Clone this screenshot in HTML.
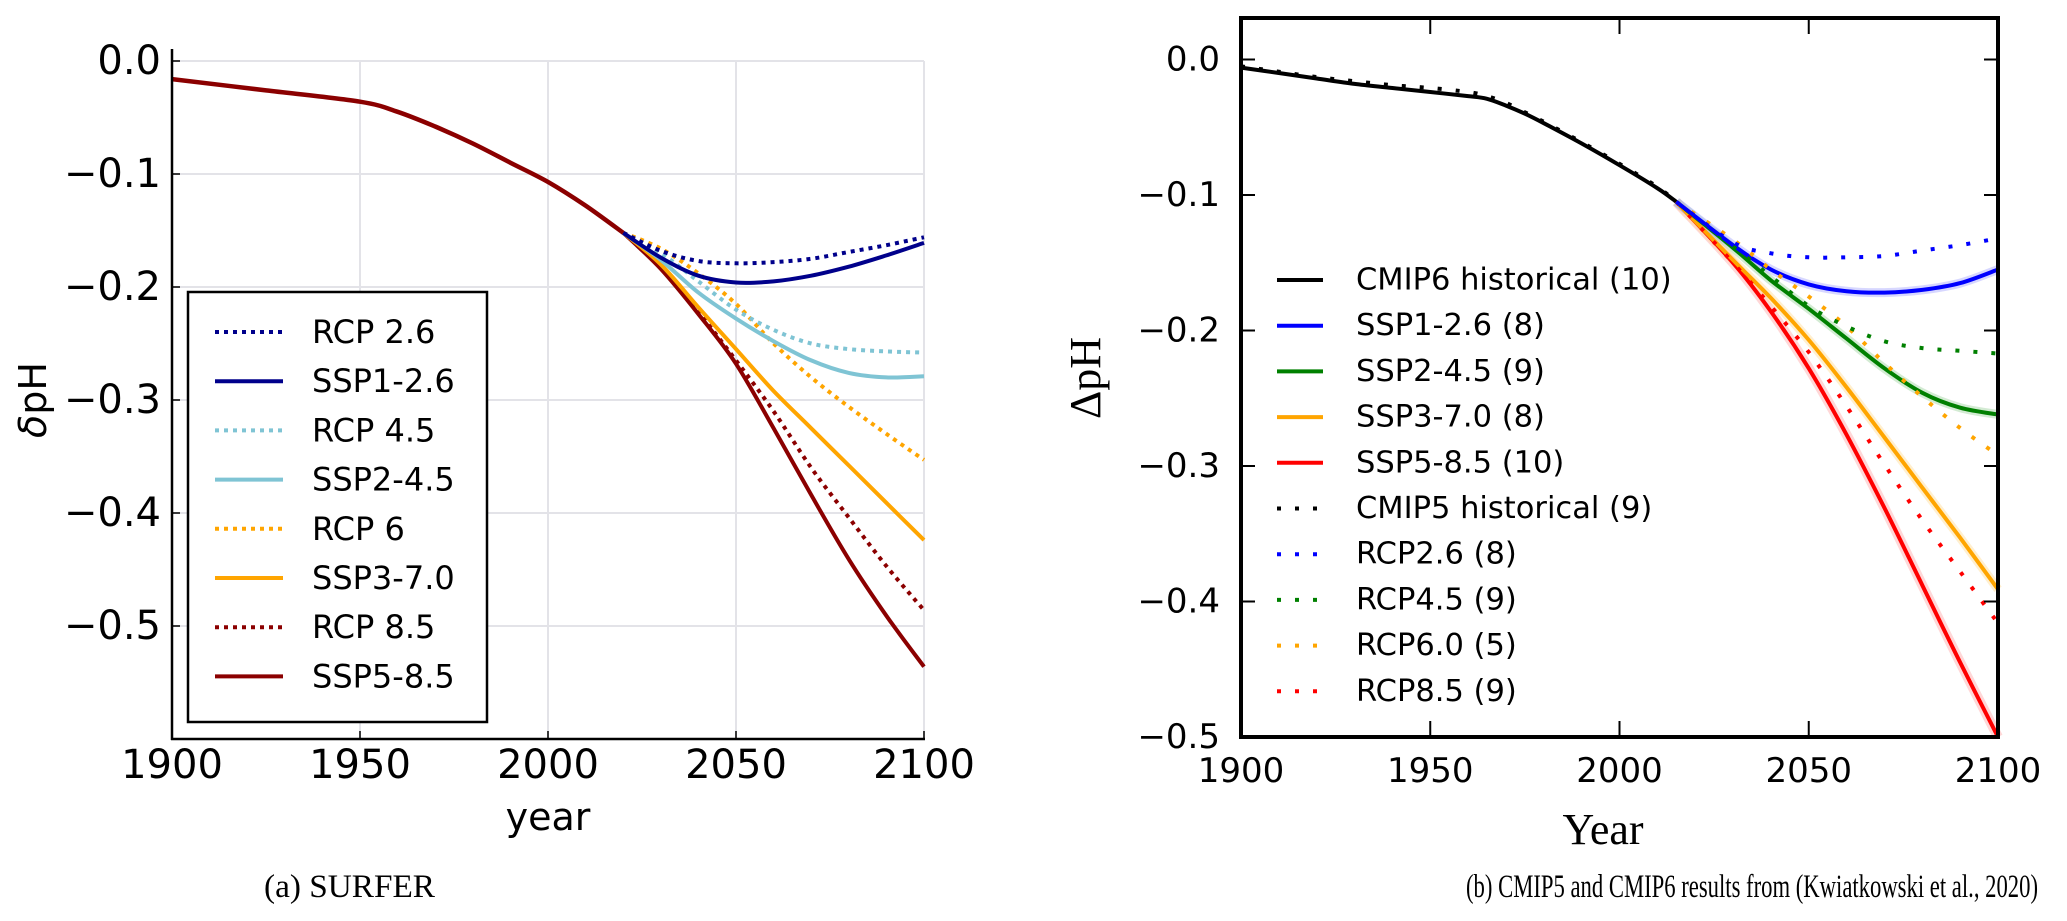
<!DOCTYPE html>
<html><head><meta charset="utf-8"><style>
html,body{margin:0;padding:0;background:#fff;}
svg{display:block;}
</style></head><body>
<svg id="fig" width="2067" height="921" viewBox="0 0 2067 921" xmlns="http://www.w3.org/2000/svg">
<g id="left"></g>
<g id="right"></g>
<text x="264" y="897" font-family="Liberation Serif, serif" font-size="33" textLength="171" lengthAdjust="spacingAndGlyphs">(a) SURFER</text>
<text x="1466" y="897" font-family="Liberation Serif, serif" font-size="33" textLength="572" lengthAdjust="spacingAndGlyphs">(b) CMIP5 and CMIP6 results from (Kwiatkowski et al., 2020)</text>
</svg>
<script>
// ---------- LEFT (SURFER) DATA ----------
const histYearsL = [1900,1925,1950,1960,1970,1980,1990,2000,2010,2020];
const histValsL  = [-0.016,-0.026,-0.036,-0.045,-0.058,-0.073,-0.09,-0.107,-0.128,-0.152];
const scenYearsL = [2020,2030,2040,2050,2060,2070,2080,2090,2100];
const rcp26L  = [-0.152,-0.168,-0.177,-0.179,-0.178,-0.175,-0.169,-0.163,-0.156];
const ssp126L = [-0.152,-0.174,-0.190,-0.196,-0.195,-0.190,-0.182,-0.172,-0.161];
const rcp45L  = [-0.152,-0.170,-0.195,-0.220,-0.238,-0.250,-0.255,-0.257,-0.258];
const ssp245L = [-0.152,-0.176,-0.205,-0.228,-0.248,-0.265,-0.276,-0.280,-0.279];
const rcp6L   = [-0.152,-0.166,-0.188,-0.215,-0.250,-0.280,-0.306,-0.330,-0.353];
const ssp370L = [-0.152,-0.180,-0.218,-0.255,-0.292,-0.325,-0.358,-0.391,-0.424];
const rcp85L  = [-0.152,-0.182,-0.222,-0.265,-0.310,-0.360,-0.404,-0.447,-0.486];
const ssp585L = [-0.152,-0.184,-0.224,-0.268,-0.325,-0.384,-0.441,-0.491,-0.536];
const yTicksL = [0,-0.1,-0.2,-0.3,-0.4,-0.5];
const xTicks = [1900,1950,2000,2050,2100];

// ---------- RIGHT (CMIP) DATA ----------
const histYearsR = [1900,1910,1920,1930,1940,1950,1960,1965,1970,1975,1980,1990,2000,2010,2015];
const cmip6Hist  = [-0.006,-0.010,-0.014,-0.018,-0.021,-0.024,-0.027,-0.029,-0.034,-0.040,-0.047,-0.062,-0.078,-0.095,-0.105];
const cmip5Hist  = [-0.005,-0.009,-0.013,-0.016,-0.019,-0.021,-0.024,-0.027,-0.032,-0.039,-0.046,-0.061,-0.077,-0.094,-0.105];
const scenYearsR = [2015,2030,2040,2050,2060,2070,2080,2090,2100];
const ssp126R = [-0.105,-0.137,-0.155,-0.166,-0.171,-0.172,-0.170,-0.165,-0.155];
const ssp245R = [-0.105,-0.139,-0.163,-0.184,-0.206,-0.228,-0.246,-0.257,-0.262];
const ssp370R = [-0.105,-0.148,-0.176,-0.207,-0.242,-0.279,-0.316,-0.353,-0.391];
const ssp585R = [-0.105,-0.150,-0.186,-0.228,-0.277,-0.331,-0.388,-0.445,-0.500];
const rcp26R  = [-0.105,-0.135,-0.143,-0.146,-0.146,-0.145,-0.141,-0.137,-0.132];
const rcp45R  = [-0.105,-0.138,-0.160,-0.182,-0.197,-0.208,-0.213,-0.215,-0.217];
const rcp60R  = [-0.105,-0.133,-0.155,-0.175,-0.197,-0.224,-0.249,-0.272,-0.292];
const rcp85R  = [-0.105,-0.150,-0.182,-0.216,-0.256,-0.299,-0.340,-0.378,-0.416];
const yTicksR = [0,-0.1,-0.2,-0.3,-0.4,-0.5];

const NS='http://www.w3.org/2000/svg';
function mk(parent,tag,attrs,text){const e=document.createElementNS(NS,tag);for(const k in attrs)e.setAttribute(k,attrs[k]);if(text!==undefined)e.textContent=text;parent.appendChild(e);return e;}
function fmt(v){return v===0?'0.0':'\u2212'+Math.abs(v).toFixed(1);}
function pathD(xs,ys,sx,sy){
  const p=xs.map((x,i)=>[sx(x),sy(ys[i])]);
  let d='M'+p[0][0].toFixed(1)+','+p[0][1].toFixed(1);
  for(let i=0;i<p.length-1;i++){
    const p0=p[Math.max(0,i-1)],p1=p[i],p2=p[i+1],p3=p[Math.min(p.length-1,i+2)];
    const c1=[p1[0]+(p2[0]-p0[0])/6,p1[1]+(p2[1]-p0[1])/6];
    const c2=[p2[0]-(p3[0]-p1[0])/6,p2[1]-(p3[1]-p1[1])/6];
    d+='C'+c1[0].toFixed(1)+','+c1[1].toFixed(1)+' '+c2[0].toFixed(1)+','+c2[1].toFixed(1)+' '+p2[0].toFixed(1)+','+p2[1].toFixed(1);
  }
  return d;
}

// ---------- LEFT CHART ----------
(function(){
  const g=document.getElementById('left');
  const X0=172,X1=924,Y0=61,PER=1130;
  const sx=yr=>X0+(yr-1900)*(X1-X0)/200;
  const sy=v=>Y0-v*PER;
  const YB=739;
  const font='DejaVu Sans, Liberation Sans, sans-serif';
  yTicksL.forEach(v=>{
    const l=mk(g,'line',{x1:X0,x2:X1,y1:sy(v),y2:sy(v),stroke:'#e3e3e8','stroke-width':2});
    
    
  });
  xTicks.slice(1).forEach(yr=>{
    const l=mk(g,'line',{x1:sx(yr),x2:sx(yr),y1:Y0,y2:YB,stroke:'#e3e3e8','stroke-width':2});
    
    
  });
  const lines=[
    ['ssp585-line',ssp585L,'#8b0000',null],
    ['rcp85-line',rcp85L,'#8b0000','4 5'],
    ['ssp370-line',ssp370L,'#ffa500',null],
    ['rcp6-line',rcp6L,'#ffa500','4 5'],
    ['ssp245-line',ssp245L,'#7fc4d4',null],
    ['rcp45-line',rcp45L,'#7fc4d4','4 5'],
    ['ssp126-line',ssp126L,'#00008b',null],
    ['rcp26-line',rcp26L,'#00008b','4 5']
  ];
  lines.forEach(([n,vals,c,dash])=>{
    const a={d:pathD(scenYearsL,vals,sx,sy),fill:'none',stroke:c,'stroke-width':4};
    if(dash)a['stroke-dasharray']=dash;
    const p=mk(g,'path',a);
    
    
  });
  const h=mk(g,'path',{d:pathD(histYearsL,histValsL,sx,sy),fill:'none',stroke:'#8b0000','stroke-width':4.5});
  
  
  const s1=mk(g,'line',{x1:X0,x2:X0,y1:Y0-12,y2:YB+1,stroke:'#000','stroke-width':2.5});
  
  
  const s2=mk(g,'line',{x1:X0-1,x2:X1+1,y1:YB,y2:YB,stroke:'#000','stroke-width':2.5});
  
  
  yTicksL.forEach(v=>{
    const t=mk(g,'line',{x1:X0,x2:X0+8,y1:sy(v),y2:sy(v),stroke:'#000','stroke-width':1.5});
    
    
    const tl=mk(g,'text',{x:161,y:sy(v),'font-family':font,'font-size':40,'text-anchor':'end','dominant-baseline':'central'},fmt(v));
    
    
  });
  xTicks.forEach(yr=>{
    const t=mk(g,'line',{x1:sx(yr),x2:sx(yr),y1:YB,y2:YB-8,stroke:'#000','stroke-width':1.5});
    
    
    const tl=mk(g,'text',{x:sx(yr),y:778,'font-family':font,'font-size':40,'text-anchor':'middle'},String(yr));
    
    
  });
  const xt=mk(g,'text',{x:548,y:830,'font-family':font,'font-size':38,'text-anchor':'middle'},'year');
  
  
  const yt=mk(g,'text',{x:0,y:0,'font-family':font,'font-size':38,'text-anchor':'middle',transform:'translate(46,400) rotate(-90)'});
  
  
  mk(yt,'tspan',{'font-style':'italic'},'\u03b4');
  mk(yt,'tspan',{},'pH');
  const lg=mk(g,'g',{});
  
  
  const box=mk(lg,'rect',{x:188,y:292,width:299,height:430,fill:'#fff',stroke:'#000','stroke-width':2.5});
  
  
  const entries=[['RCP 2.6','#00008b',1],['SSP1-2.6','#00008b',0],['RCP 4.5','#7fc4d4',1],['SSP2-4.5','#7fc4d4',0],['RCP 6','#ffa500',1],['SSP3-7.0','#ffa500',0],['RCP 8.5','#8b0000',1],['SSP5-8.5','#8b0000',0]];
  entries.forEach(([lab,c,dot],i)=>{
    const y=332+i*49.2;
    const a={x1:215,x2:283,y1:y,y2:y,stroke:c,'stroke-width':4};
    if(dot)a['stroke-dasharray']='4 5';
    const l=mk(lg,'line',a);
    
    
    const t=mk(lg,'text',{x:312,y:y,'font-family':font,'font-size':32,'dominant-baseline':'central'},lab);
    
    
  });
})();

// ---------- RIGHT CHART ----------
(function(){
  const g=document.getElementById('right');
  const X0=1241,X1=1998,Y0=59.5,PER=1355,YT=18,YB=737;
  const sx=yr=>X0+(yr-1900)*(X1-X0)/200;
  const sy=v=>Y0-v*PER;
  const font='DejaVu Sans, Liberation Sans, sans-serif';
  const lines=[
    ['ssp585-band',ssp585R,'#ffb0b0',null,10],
    ['ssp370-band',ssp370R,'#ffe0a0',null,9],
    ['ssp245-band',ssp245R,'#a8d8a8',null,9],
    ['ssp126-band',ssp126R,'#b0b0ff',null,9],
    ['ssp585-line',ssp585R,'#ff0000',null,4],
    ['ssp370-line',ssp370R,'#ffa500',null,4],
    ['ssp245-line',ssp245R,'#008000',null,4],
    ['ssp126-line',ssp126R,'#0000ff',null,4],
    ['rcp85-line',rcp85R,'#ff0000','4 14',4],
    ['rcp60-line',rcp60R,'#ffa500','4 14',4],
    ['rcp45-line',rcp45R,'#008000','4 14',4],
    ['rcp26-line',rcp26R,'#0000ff','4 14',4]
  ];
  const h6=mk(g,'path',{d:pathD(histYearsR,cmip6Hist,sx,sy),fill:'none',stroke:'#000','stroke-width':4});
  
  
  const h5=mk(g,'path',{d:pathD(histYearsR,cmip5Hist,sx,sy),fill:'none',stroke:'#000','stroke-width':4,'stroke-dasharray':'4 14'});
  
  
  lines.forEach(([n,vals,c,dash,w])=>{
    const a={d:pathD(scenYearsR,vals,sx,sy),fill:'none',stroke:c,'stroke-width':w};
    if(dash)a['stroke-dasharray']=dash;
    if(n.indexOf('band')>=0)a.opacity=0.5;
    const p=mk(g,'path',a);
    
    
  });
  const frame=mk(g,'rect',{x:X0,y:YT,width:X1-X0,height:YB-YT,fill:'none',stroke:'#000','stroke-width':4});
  
  
  yTicksR.forEach(v=>{
    const t=mk(g,'line',{x1:X0,x2:X0+14,y1:sy(v),y2:sy(v),stroke:'#000','stroke-width':2});
    
    
    const t2=mk(g,'line',{x1:X1,x2:X1-14,y1:sy(v),y2:sy(v),stroke:'#000','stroke-width':2});
    
    
    const tl=mk(g,'text',{x:1220,y:sy(v),'font-family':font,'font-size':34,'text-anchor':'end','dominant-baseline':'central'},fmt(v));
    
    
  });
  xTicks.forEach(yr=>{
    const t=mk(g,'line',{x1:sx(yr),x2:sx(yr),y1:YB,y2:YB-16,stroke:'#000','stroke-width':2});
    
    
    const t2=mk(g,'line',{x1:sx(yr),x2:sx(yr),y1:YT,y2:YT+16,stroke:'#000','stroke-width':2});
    
    
    const tl=mk(g,'text',{x:sx(yr),y:782,'font-family':font,'font-size':34,'text-anchor':'middle'},String(yr));
    
    
  });
  const xt=mk(g,'text',{x:1603,y:844,'font-family':'Liberation Serif, serif','font-size':44,'text-anchor':'middle'},'Year');
  
  
  const yt=mk(g,'text',{x:0,y:0,'font-family':'Liberation Serif, serif','font-size':44,'text-anchor':'middle',transform:'translate(1100,378) rotate(-90)'},'\u0394pH');
  
  
  const lg=mk(g,'g',{});
  
  
  const entries=[['CMIP6 historical (10)','#000',0],['SSP1-2.6 (8)','#0000ff',0],['SSP2-4.5 (9)','#008000',0],['SSP3-7.0 (8)','#ffa500',0],['SSP5-8.5 (10)','#ff0000',0],['CMIP5 historical (9)','#000',1],['RCP2.6 (8)','#0000ff',1],['RCP4.5 (9)','#008000',1],['RCP6.0 (5)','#ffa500',1],['RCP8.5 (9)','#ff0000',1]];
  entries.forEach(([lab,c,dot],i)=>{
    const y=280+i*45.7;
    const a={x1:1277,x2:1323,y1:y,y2:y,stroke:c,'stroke-width':4};
    if(dot)a['stroke-dasharray']='4 14';
    const l=mk(lg,'line',a);
    
    
    const t=mk(lg,'text',{x:1356,y:y,'font-family':font,'font-size':30.5,'dominant-baseline':'central'},lab);
    
    
  });
})();
</script>
</body></html>
